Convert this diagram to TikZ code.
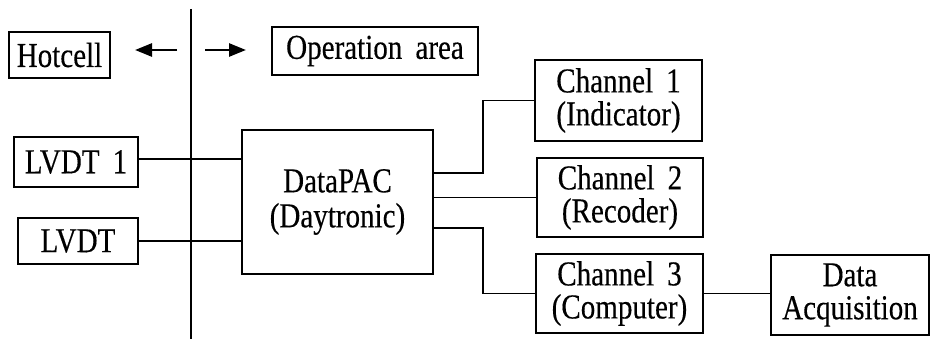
\documentclass[tikz,border=0pt]{standalone}
\usepackage{fontspec}
\setmainfont{Liberation Serif}[FakeStretch=0.83,FakeBold=0.3]
\usetikzlibrary{arrows.meta}
\begin{document}
\begin{tikzpicture}[x=1pt,y=-1pt,
  box/.style={draw,line width=1.8pt,inner sep=0pt,align=center,
    font=\fontsize{35}{33}\selectfont},
  wire/.style={line width=1.8pt},
  bigarrow/.style={line width=2.6pt,-{Triangle[length=17pt,width=13pt]}}]
\useasboundingbox (0,0) rectangle (931,339);
\node[box,minimum width=101pt,minimum height=46pt] (hot) at (59.5,55) {Hotcell};
\node[box,minimum width=206pt,minimum height=48pt] (op) at (375,51) {Operation\, area};
\node[box,minimum width=124pt,minimum height=50pt] (l1) at (76,162) {LVDT\, 1};
\node[box,minimum width=120pt,minimum height=46pt] (l2) at (78,241) {LVDT};
\node[box,minimum width=191pt,minimum height=144pt,font=\fontsize{35}{35}\selectfont] (dp) at (337.5,202) {DataPAC\\(Daytronic)};
\node[box,minimum width=167pt,minimum height=81pt] (c1) at (618.5,100.5) {Channel\, 1\\(Indicator)};
\node[box,minimum width=166pt,minimum height=79pt] (c2) at (620,197.5) {Channel\, 2\\(Recoder)};
\node[box,minimum width=167pt,minimum height=79pt] (c3) at (619.5,293.5) {Channel\, 3\\(Computer)};
\node[box,minimum width=158pt,minimum height=80pt] (da) at (850,295) {Data\\Acquisition};
% divider
\coordinate (dtop) at (191,9);
\coordinate (dbot) at (191,339);
\draw[wire] (dtop) -- (dbot);
% arrows
\coordinate (al1) at (177,50);
\coordinate (al2) at (135,50);
\coordinate (ar1) at (205,50);
\coordinate (ar2) at (246,50);
\draw[bigarrow] (al1) -- (al2);
\draw[bigarrow] (ar1) -- (ar2);
% connectors
\draw[wire] (l1.east |- 0,159) -- (dp.west |- 0,159);
\draw[wire] (l2.east) -- (dp.west |- l2.east);
\draw[wire] (dp.east |- 0,173) -- (483,173) |- (c1.west);
\draw[wire] (dp.east |- c2.west) -- (c2.west);
\draw[wire] (dp.east |- 0,228) -- (483,228) |- (c3.west);
\draw[wire] (c3.east) -- (da.west |- c3.east);
\end{tikzpicture}
\end{document}
